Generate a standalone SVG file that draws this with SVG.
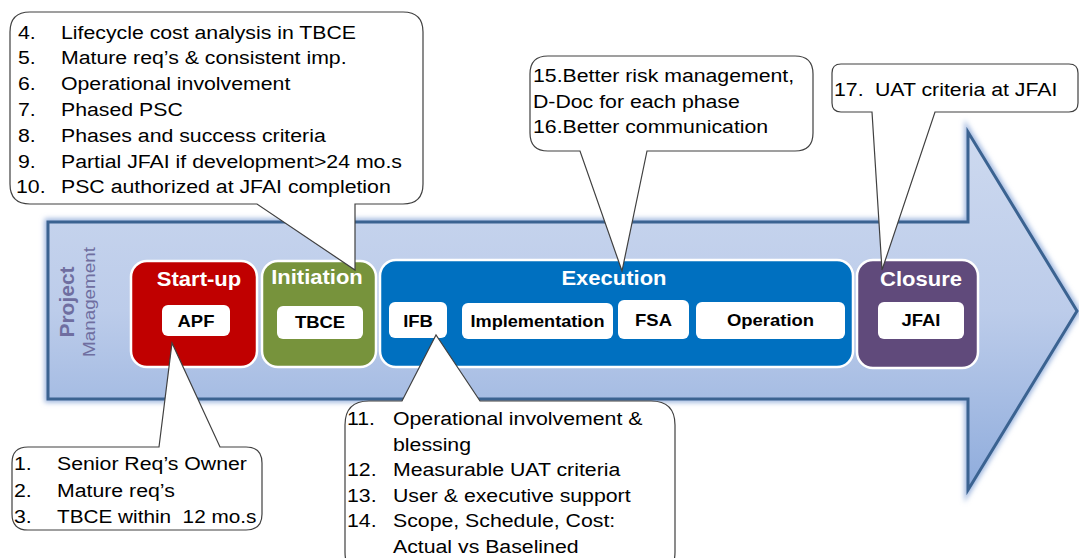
<svg xmlns="http://www.w3.org/2000/svg" width="1079" height="558" viewBox="0 0 1079 558">
  <defs>
    <linearGradient id="arrowFill" gradientUnits="userSpaceOnUse" x1="0" y1="132" x2="0" y2="490">
      <stop offset="0" stop-color="#CDD9EF"/>
      <stop offset="0.5" stop-color="#BCCCEA"/>
      <stop offset="1" stop-color="#8FACDC"/>
    </linearGradient>
    <filter id="glow" x="-5%" y="-10%" width="110%" height="120%">
      <feGaussianBlur stdDeviation="2.5"/>
    </filter>
    <style>
      .callout { fill: #FFFFFF; stroke: #404040; stroke-width: 1.2; }
      .ct { font-family: "Liberation Sans", Arial, sans-serif; font-size: 19px; fill: #000000; }
      .phase { stroke: #FFFFFF; stroke-width: 2.5; }
      .title { font-family: "Liberation Sans", Arial, sans-serif; font-size: 20px; font-weight: bold; fill: #FFFFFF; text-anchor: middle; }
      .lbox { fill: #FFFFFF; }
      .label { font-family: "Liberation Sans", Arial, sans-serif; font-size: 16.5px; font-weight: bold; fill: #000000; text-anchor: middle; }
      .pm { font-family: "Liberation Sans", Arial, sans-serif; fill: #6F6EA0; text-anchor: middle; }
    </style>
  </defs>

  <!-- big process arrow -->
  <g id="arrow">
    <path d="M48,222 H968 V132 L1077,311 L968,490 V399 H48 Z" fill="none" stroke="#9DB5DE" stroke-width="7" filter="url(#glow)"/>
    <path d="M48,222 H968 V132 L1077,311 L968,490 V399 H48 Z" fill="url(#arrowFill)" stroke="#3B6391" stroke-width="3" stroke-linejoin="miter"/>
    <text class="pm" font-size="21" font-weight="bold" transform="translate(74,302) rotate(-90)">Project</text>
    <text class="pm" font-size="16.5" textLength="110" lengthAdjust="spacingAndGlyphs" transform="translate(95,302) rotate(-90)" x="-55" style="text-anchor:start">Management</text>
  </g>

  <!-- phases -->
  <g id="startup">
    <rect class="phase" x="131" y="261" width="126" height="106" rx="16" fill="#C00000"/>
    <text class="title" transform="translate(199,286) scale(1.1,1)">Start-up</text>
    <rect class="lbox" x="162" y="305" width="68" height="31" rx="6"/>
    <text class="label" transform="translate(196,327) scale(1.12,1)">APF</text>
  </g>
  <g id="initiation">
    <rect class="phase" x="262" y="261" width="114" height="106" rx="16" fill="#77933C"/>
    <text class="title" transform="translate(317,284) scale(1.1,1)">Initiation</text>
    <rect class="lbox" x="277" y="306" width="86" height="33" rx="6"/>
    <text class="label" transform="translate(320,328) scale(1.12,1)">TBCE</text>
  </g>
  <g id="execution">
    <rect class="phase" x="380" y="260" width="473" height="107" rx="16" fill="#0070C0"/>
    <text class="title" transform="translate(614,285) scale(1.1,1)">Execution</text>
    <rect class="lbox" x="389" y="302" width="58" height="36" rx="6"/>
    <text class="label" transform="translate(418,327) scale(1.12,1)">IFB</text>
    <rect class="lbox" x="462" y="303" width="151" height="36" rx="6"/>
    <text class="label" transform="translate(537.5,327) scale(1.1,1)">Implementation</text>
    <rect class="lbox" x="618" y="300" width="71" height="39" rx="6"/>
    <text class="label" transform="translate(653.5,326) scale(1.12,1)">FSA</text>
    <rect class="lbox" x="696" y="302" width="149" height="37" rx="6"/>
    <text class="label" transform="translate(770.5,326) scale(1.12,1)">Operation</text>
  </g>
  <g id="closure">
    <rect class="phase" x="857" y="260" width="121" height="108" rx="16" fill="#604A7B"/>
    <text class="title" transform="translate(921,286) scale(1.1,1)">Closure</text>
    <rect class="lbox" x="878" y="302" width="86" height="37" rx="6"/>
    <text class="label" transform="translate(921,326) scale(1.12,1)">JFAI</text>
  </g>

  <!-- callouts pointing at the phases -->
  <g id="connectors">
    <g id="callout-initiation">
      <path class="callout" d="M30,12 H403 Q423,12 423,32 V184 Q423,204 403,204 H355 V270 L257,204 H30 Q10,204 10,184 V32 Q10,12 30,12 Z"/>
      <text class="ct" transform="translate(18,38.5) scale(1.12,1)">4.</text>
      <text class="ct" transform="translate(61,38.5) scale(1.12,1)">Lifecycle cost analysis in TBCE</text>
      <text class="ct" transform="translate(18,64.3) scale(1.12,1)">5.</text>
      <text class="ct" transform="translate(61,64.3) scale(1.12,1)">Mature req’s &amp; consistent imp.</text>
      <text class="ct" transform="translate(18,90.1) scale(1.12,1)">6.</text>
      <text class="ct" transform="translate(61,90.1) scale(1.12,1)">Operational involvement</text>
      <text class="ct" transform="translate(18,115.9) scale(1.12,1)">7.</text>
      <text class="ct" transform="translate(61,115.9) scale(1.12,1)">Phased PSC</text>
      <text class="ct" transform="translate(18,141.7) scale(1.12,1)">8.</text>
      <text class="ct" transform="translate(61,141.7) scale(1.12,1)">Phases and success criteria</text>
      <text class="ct" transform="translate(18,167.5) scale(1.12,1)">9.</text>
      <text class="ct" transform="translate(61,167.5) scale(1.12,1)">Partial JFAI if development&gt;24 mo.s</text>
      <text class="ct" transform="translate(16,193.3) scale(1.12,1)">10.</text>
      <text class="ct" transform="translate(61,193.3) scale(1.12,1)">PSC authorized at JFAI completion</text>
    </g>
    <g id="callout-execution">
      <path class="callout" d="M548,56 H795 Q813,56 813,74 V133 Q813,151 795,151 H647 L622,271 L580,151 H548 Q530,151 530,133 V74 Q530,56 548,56 Z"/>
      <text class="ct" transform="translate(533,82) scale(1.12,1)">15.Better risk management,</text>
      <text class="ct" transform="translate(533,107.5) scale(1.12,1)">D-Doc for each phase</text>
      <text class="ct" transform="translate(533,133) scale(1.12,1)">16.Better communication</text>
    </g>
    <g id="callout-closure">
      <path class="callout" d="M841,64 H1069 Q1078,64 1078,73 V103 Q1078,112 1069,112 H935 L882,270 L872,112 H841 Q832,112 832,103 V73 Q832,64 841,64 Z"/>
      <text class="ct" transform="translate(834,96) scale(1.12,1)">17.</text>
      <text class="ct" transform="translate(875,96) scale(1.12,1)">UAT criteria at JFAI</text>
    </g>
    <g id="callout-startup">
      <path class="callout" d="M28,447 H159 L172,343 L220,447 H246 Q262,447 262,463 V514 Q262,530 246,530 H28 Q12,530 12,514 V463 Q12,447 28,447 Z"/>
      <text class="ct" transform="translate(14,470) scale(1.12,1)">1.</text>
      <text class="ct" transform="translate(57,470) scale(1.12,1)">Senior Req’s Owner</text>
      <text class="ct" transform="translate(14,496.5) scale(1.12,1)">2.</text>
      <text class="ct" transform="translate(57,496.5) scale(1.12,1)">Mature req’s</text>
      <text class="ct" transform="translate(14,523) scale(1.12,1)">3.</text>
      <text class="ct" xml:space="preserve" textLength="178" lengthAdjust="spacingAndGlyphs" transform="translate(57,523) scale(1.12,1)">TBCE within  12 mo.s</text>
    </g>
    <g id="callout-ifb">
      <path class="callout" d="M369,401 H402 L436,335 L480,401 H651 Q675,401 675,425 V552 Q675,576 651,576 H369 Q345,576 345,552 V425 Q345,401 369,401 Z"/>
      <text class="ct" transform="translate(347,425) scale(1.12,1)">11.</text>
      <text class="ct" transform="translate(393,425) scale(1.12,1)">Operational involvement &amp;</text>
      <text class="ct" transform="translate(393,450.6) scale(1.12,1)">blessing</text>
      <text class="ct" transform="translate(347,476.2) scale(1.12,1)">12.</text>
      <text class="ct" transform="translate(393,476.2) scale(1.12,1)">Measurable UAT criteria</text>
      <text class="ct" transform="translate(347,501.8) scale(1.12,1)">13.</text>
      <text class="ct" transform="translate(393,501.8) scale(1.12,1)">User &amp; executive support</text>
      <text class="ct" transform="translate(347,527.4) scale(1.12,1)">14.</text>
      <text class="ct" transform="translate(393,527.4) scale(1.12,1)">Scope, Schedule, Cost:</text>
      <text class="ct" transform="translate(393,553) scale(1.12,1)">Actual vs Baselined</text>
    </g>
  </g>
</svg>
